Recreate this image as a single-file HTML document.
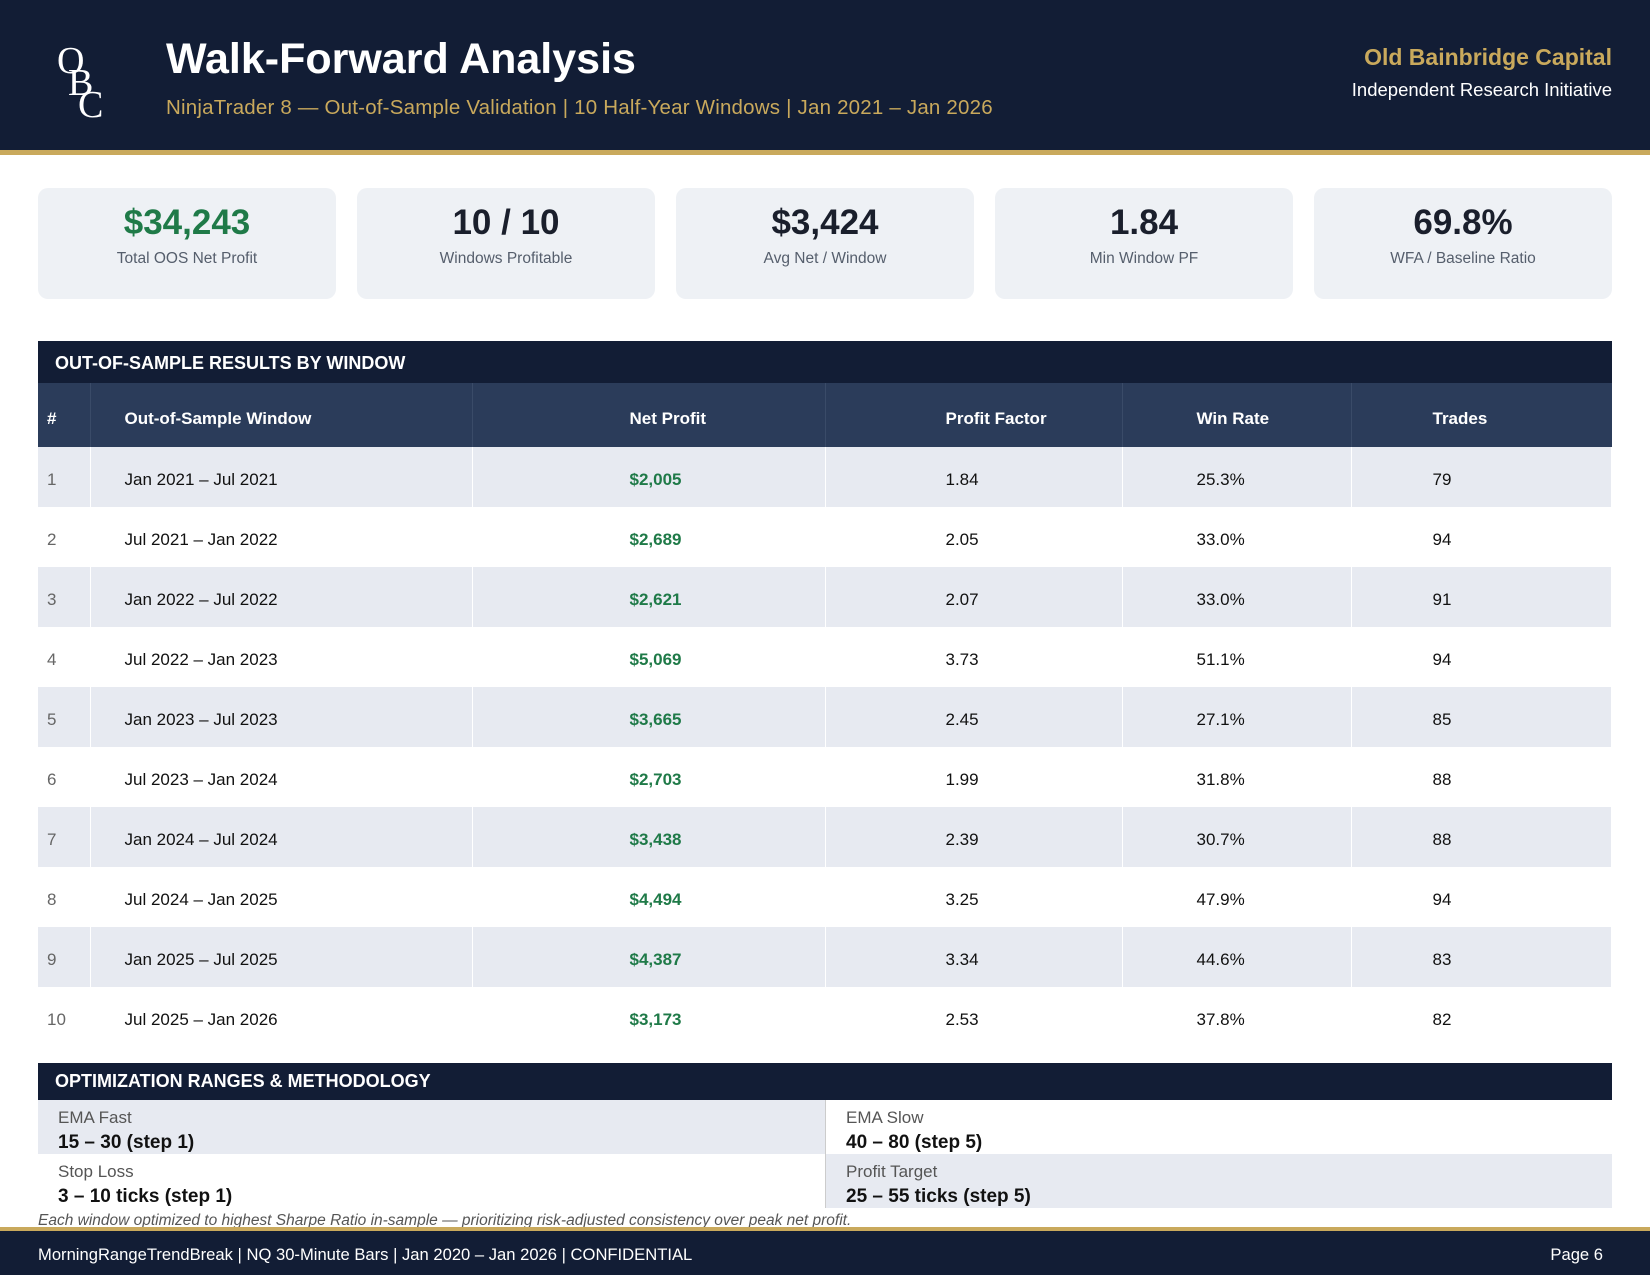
<!DOCTYPE html>
<html><head><meta charset="utf-8"><style>
*{margin:0;padding:0;box-sizing:border-box}
body{width:1650px;height:1275px;position:relative;background:#fff;font-family:"Liberation Sans",Arial,sans-serif;overflow:hidden;color:#111}
.abs{position:absolute}
.hdr{left:0;top:0;width:1650px;height:150px;background:#121d35}
.gold{left:0;top:150px;width:1650px;height:5px;background:#c9a95c}
.card{top:188px;width:298px;height:111px;background:#eef1f5;border-radius:10px;text-align:center}
.card .v{position:absolute;top:15px;left:0;right:0;font-size:35px;font-weight:bold;color:#1a1f2c}
.card .l{position:absolute;top:62px;left:0;right:0;font-size:15.5px;color:#555e6c}
.sec{left:38px;width:1574px;background:#121d35;color:#fff;font-weight:bold;font-size:18px;padding-left:17px}
table{position:absolute;left:38px;top:383px;width:1574px;border-collapse:collapse;font-size:17px}
th{background:#2b3c5a;color:#fff;height:64px;text-align:left;font-weight:bold;border-right:1px solid #3a4b68;padding-top:7px}
td{height:60px;border-right:1px solid #fff;padding-top:6px}
tr.s td{background:#e7eaf1}
td.n{color:#666}
td.g{color:#1f7a48;font-weight:bold}
.opt{height:54px;font-size:17px;padding-left:20px}
.opt .k{position:absolute;top:8px;color:#555;font-size:17px}
.opt .val{position:absolute;top:32px;font-weight:bold;font-size:19px;color:#111}
</style></head><body>
<div class="abs hdr"></div>
<div class="abs gold"></div>
<div class="abs" style="left:56px;top:42px;width:55px;height:80px;color:#fff;font-family:'Liberation Serif',serif;font-size:38px;line-height:1">
<span class="abs" style="left:1px;top:0">O</span><span class="abs" style="left:12px;top:22px">B</span><span class="abs" style="left:22px;top:44px">C</span></div>
<div class="abs" style="left:166px;top:35px;font-size:43px;font-weight:bold;color:#fff">Walk-Forward Analysis</div>
<div class="abs" style="left:166px;top:96px;font-size:20.5px;color:#c9a95c;letter-spacing:0.2px">NinjaTrader 8 — Out-of-Sample Validation | 10 Half-Year Windows | Jan 2021 – Jan 2026</div>
<div class="abs" style="right:38px;top:44px;font-size:23px;font-weight:bold;color:#c9a95c">Old Bainbridge Capital</div>
<div class="abs" style="right:38px;top:79px;font-size:18.5px;color:#fff">Independent Research Initiative</div>

<div class="abs card" style="left:38px"><div class="v" style="color:#1f7a48">$34,243</div><div class="l">Total OOS Net Profit</div></div>
<div class="abs card" style="left:357px"><div class="v">10 / 10</div><div class="l">Windows Profitable</div></div>
<div class="abs card" style="left:676px"><div class="v">$3,424</div><div class="l">Avg Net / Window</div></div>
<div class="abs card" style="left:995px"><div class="v">1.84</div><div class="l">Min Window PF</div></div>
<div class="abs card" style="left:1314px"><div class="v">69.8%</div><div class="l">WFA / Baseline Ratio</div></div>

<div class="abs sec" style="top:341px;height:42px;line-height:44px">OUT-OF-SAMPLE RESULTS BY WINDOW</div>
<table>
<thead><tr>
<th style="width:52px;padding-left:9px">#</th><th style="width:382px;padding-left:34px">Out-of-Sample Window</th><th style="width:353px;padding-left:157px">Net Profit</th><th style="width:297px;padding-left:120px">Profit Factor</th><th style="width:229px;padding-left:74px">Win Rate</th><th style="padding-left:81px;border-right:0">Trades</th>
</tr></thead>
<tbody id="tb"></tbody></table>

<div class="abs sec" style="top:1063px;height:37px;line-height:37px">OPTIMIZATION RANGES &amp; METHODOLOGY</div>
<div class="abs opt" style="left:38px;top:1100px;width:787px;background:#e7eaf1"><span class="k" style="left:20px">EMA Fast</span><span class="val" style="left:20px">15 – 30 (step 1)</span></div>
<div class="abs opt" style="left:825px;top:1100px;width:787px;background:#fff;border-left:1px solid #ccc"><span class="k" style="left:20px">EMA Slow</span><span class="val" style="left:20px">40 – 80 (step 5)</span></div>
<div class="abs opt" style="left:38px;top:1154px;width:787px;background:#fff"><span class="k" style="left:20px">Stop Loss</span><span class="val" style="left:20px">3 – 10 ticks (step 1)</span></div>
<div class="abs opt" style="left:825px;top:1154px;width:787px;background:#e7eaf1;border-left:1px solid #ccc"><span class="k" style="left:20px">Profit Target</span><span class="val" style="left:20px">25 – 55 ticks (step 5)</span></div>
<div class="abs" style="left:38px;top:1212px;font-size:15.5px;font-style:italic;color:#555">Each window optimized to highest Sharpe Ratio in-sample — prioritizing risk-adjusted consistency over peak net profit.</div>
<div class="abs" style="left:0;top:1227px;width:1650px;height:4px;background:#c9a95c"></div>
<div class="abs" style="left:0;top:1231px;width:1650px;height:44px;background:#121d35"></div>
<div class="abs" style="left:38px;top:1245px;font-size:16.6px;color:#fff">MorningRangeTrendBreak | NQ 30-Minute Bars | Jan 2020 – Jan 2026 | CONFIDENTIAL</div>
<div class="abs" style="right:47px;top:1245px;font-size:16.6px;color:#fff">Page 6</div>
<script>
const windows=["Jan 2021 – Jul 2021","Jul 2021 – Jan 2022","Jan 2022 – Jul 2022","Jul 2022 – Jan 2023","Jan 2023 – Jul 2023","Jul 2023 – Jan 2024","Jan 2024 – Jul 2024","Jul 2024 – Jan 2025","Jan 2025 – Jul 2025","Jul 2025 – Jan 2026"];
const netProfit=[2005,2689,2621,5069,3665,2703,3438,4494,4387,3173];
const profitFactor=[1.84,2.05,2.07,3.73,2.45,1.99,2.39,3.25,3.34,2.53];
const winRate=[25.3,33.0,33.0,51.1,27.1,31.8,30.7,47.9,44.6,37.8];
const trades=[79,94,91,94,85,88,88,94,83,82];
const tb=document.getElementById('tb');
windows.forEach((w,i)=>{
  const tr=document.createElement('tr');
  
  
  if(i%2===0)tr.className='s';
  tr.innerHTML='<td class="n" style="padding-left:9px">'+(i+1)+'</td><td style="padding-left:34px">'+w+'</td><td class="g" style="padding-left:157px">$'+netProfit[i].toLocaleString('en-US')+'</td><td style="padding-left:120px">'+profitFactor[i].toFixed(2)+'</td><td style="padding-left:74px">'+winRate[i].toFixed(1)+'%</td><td style="padding-left:81px">'+trades[i]+'</td>';
  tb.appendChild(tr);
});
</script>
</body></html>
